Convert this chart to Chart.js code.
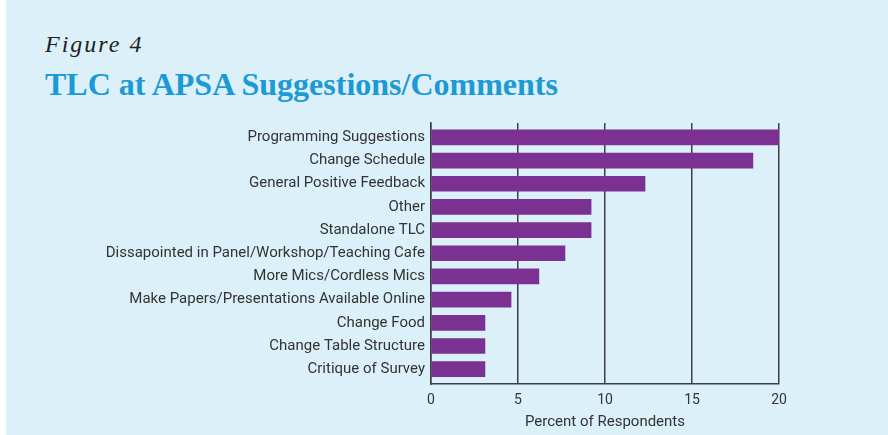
<!DOCTYPE html>
<html>
<head>
<meta charset="utf-8">
<script src="https://cdn.jsdelivr.net/npm/chart.js@4/dist/chart.umd.min.js"></script>
<style>
  html, body { margin: 0; padding: 0; background: #fff; }
  #wrap { position: absolute; left: 6px; top: 0; width: 882px; height: 435px; background: #dcf0f9; }
  #fig { position: absolute; left: 39px; top: 31px; font: italic 24px "Liberation Serif", serif; letter-spacing: 2px; color: #222; }
  #title { position: absolute; left: 39px; top: 66px; font: bold 32px "Liberation Serif", serif; color: #1b9ad6; }
  #box { position: absolute; left: 0; top: 0; width: 882px; height: 435px; }
</style>
</head>
<body>
<div id="wrap">
  <div id="fig">Figure 4</div>
  <div id="title">TLC at APSA Suggestions/Comments</div>
  <div id="box"><canvas id="c"></canvas></div>
</div>
<script>
// categories, top to bottom
const categories = [
  "Programming Suggestions",
  "Change Schedule",
  "General Positive Feedback",
  "Other",
  "Standalone TLC",
  "Dissapointed in Panel/Workshop/Teaching Cafe",
  "More Mics/Cordless Mics",
  "Make Papers/Presentations Available Online",
  "Change Food",
  "Change Table Structure",
  "Critique of Survey"
];
// percent of respondents
const percents = [20, 18.5, 12.3, 9.2, 9.2, 7.7, 6.2, 4.6, 3.1, 3.1, 3.1];
const xTicks = [0, 5, 10, 15, 20];

const lineCol = "#3c3f44";
const textCol = "#333";

new Chart(document.getElementById("c"), {
  type: "bar",
  data: {
    labels: categories,
    datasets: [{
      data: percents,
      backgroundColor: "#7b3192",
      barThickness: 15
    }]
  },
  options: {
    indexAxis: "y",
    responsive: true,
    maintainAspectRatio: false,
    animation: false,
    layout: { padding: { top: 123, right: 109, left: 0, bottom: 0 } },
    plugins: { legend: { display: false }, tooltip: { enabled: false } },
    scales: {
      x: {
        min: 0, max: 20,
        afterBuildTicks: (s) => { s.ticks = xTicks.map((v) => ({ value: v })); },
        afterFit: (s) => { s.height = 51; },
        grid: { color: lineCol, lineWidth: 1.5, drawTicks: false },
        border: { color: lineCol, width: 1.5 },
        ticks: { color: textCol, font: { family: "Roboto", size: 14 }, padding: 8 },
        title: { display: true, text: "Percent of Respondents", color: textCol,
                 font: { family: "Roboto", size: 15 }, padding: { top: 0, bottom: 4 } }
      },
      y: {
        // small gap above first and below last row, like the original
        afterBuildTicks: (s) => { s._startValue = -0.62; s._valueRange = 11.26; },
        afterFit: (s) => { s.width = 425; },
        grid: { display: false, drawTicks: false },
        border: { color: lineCol, width: 1.5 },
        ticks: { color: textCol, font: { family: "Roboto", size: 15 }, padding: 6 }
      }
    }
  }
});
</script>
</body>
</html>
